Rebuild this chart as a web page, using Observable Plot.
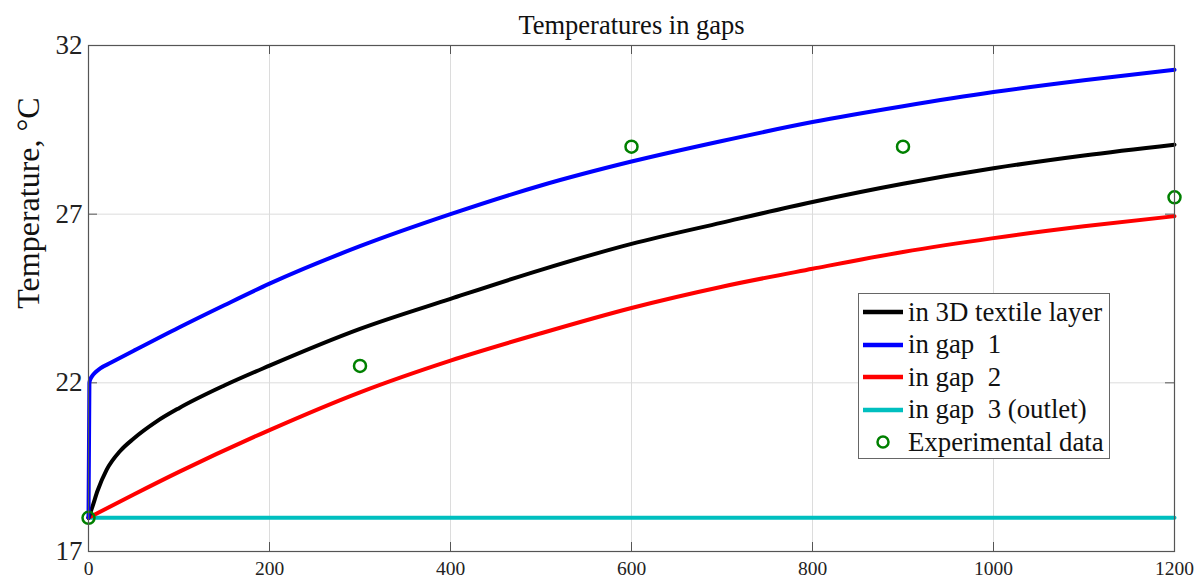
<!DOCTYPE html>
<html>
<head>
<meta charset="utf-8">
<script src="https://cdn.jsdelivr.net/npm/d3@7"></script>
<script src="https://cdn.jsdelivr.net/npm/@observablehq/plot@0.6"></script>
<style>
  html, body { margin: 0; padding: 0; background: #fff; }
  #wrap { position: relative; width: 1201px; height: 585px; font-family: "Liberation Serif", "DejaVu Serif", serif; }
  #legend { position: absolute; left: 858px; top: 293px; width: 250px; height: 162px; border: 1px solid #666; background: #fff; box-sizing: content-box; padding-top: 2px; }
  .row { display: flex; align-items: center; height: 32.5px; font-size: 26.8px; color: #111; white-space: nowrap; }
  .row svg { margin-left: 4px; margin-right: 5px; flex: none; }
  #ylabel { position: absolute; width: 280px; height: 40px; line-height: 40px; left: -112px; top: 183px; text-align: center; font-size: 32px; color: #111; transform: rotate(-90deg); transform-origin: 50% 50%; white-space: nowrap; }
</style>
</head>
<body>
<div id="wrap"></div>
<script>
const titleText = "Temperatures in gaps";
const yLabel = "Temperature, °C";
const xTicks = [0, 200, 400, 600, 800, 1000, 1200];
const yTicks = [17, 22, 27, 32];

// in 3D textile layer (black)
const textileX = [0, 4, 10, 20, 35, 50, 75, 100, 150, 200, 300, 400, 500, 600, 700, 800, 900, 1000, 1100, 1200];
const textileT = [18, 18.3, 18.8, 19.42, 19.98, 20.35, 20.85, 21.25, 21.92, 22.51, 23.6, 24.49, 25.35, 26.12, 26.75, 27.36, 27.9, 28.36, 28.74, 29.06];
// in gap 1 (blue)
const gap1X = [0, 1, 2, 4, 8, 13, 25, 50, 100, 150, 200, 300, 400, 500, 600, 700, 800, 900, 1000, 1100, 1200];
const gap1T = [18, 22.0, 22.1, 22.2, 22.32, 22.43, 22.6, 22.95, 23.64, 24.3, 24.94, 26.05, 27.0, 27.85, 28.56, 29.17, 29.73, 30.2, 30.62, 30.97, 31.28];
// in gap 2 (red)
const gap2X = [0, 50, 100, 200, 300, 400, 500, 600, 700, 800, 900, 1000, 1100, 1200];
const gap2T = [18, 18.69, 19.36, 20.6, 21.72, 22.66, 23.47, 24.22, 24.85, 25.38, 25.88, 26.29, 26.64, 26.94];
// in gap 3 (outlet) (cyan)
const gap3X = [0, 1200];
const gap3T = [18, 18];
// Experimental data
const expX = [0, 300, 600, 900, 1200];
const expT = [18, 22.5, 29, 29, 27.5];

const seriesNames = ["in 3D textile layer", "in gap  1", "in gap  2", "in gap  3 (outlet)"];
const seriesColors = ["#000000", "#0000ff", "#ff0000", "#00bfbf"];
const expName = "Experimental data";
const expColor = "#008000";

const toRows = (xs, ts) => xs.map((x, i) => ({x, t: ts[i]}));
const series = [toRows(textileX, textileT), toRows(gap1X, gap1T), toRows(gap2X, gap2T), toRows(gap3X, gap3T)];
const expRows = toRows(expX, expT);

const W = 1201, H = 585, mL = 88, mR = 27, mT = 45, mB = 34;
const frameH = H - mT - mB, frameW = W - mL - mR;
const tickLen = 9;
const font = "Liberation Serif";

const lineMarks = [];
// draw order: cyan, red, black, blue
[3, 2, 0, 1].forEach(k => {
  lineMarks.push(Plot.line(series[k], {x: "x", y: "t", stroke: seriesColors[k], strokeWidth: 4, curve: "monotone-x"}));
});

const chart = Plot.plot({
  width: W, height: H,
  marginLeft: mL, marginRight: mR, marginTop: mT, marginBottom: mB,
  style: {fontFamily: font, background: "#fff", color: "#222"},
  x: {domain: [0, 1200], ticks: xTicks},
  y: {domain: [17, 32], ticks: yTicks},
  marks: [
    Plot.gridX(xTicks, {stroke: "#dcdcdc", strokeOpacity: 1, strokeWidth: 1}),
    Plot.gridY([22, 27], {stroke: "#dcdcdc", strokeOpacity: 1, strokeWidth: 1}),
    // inward ticks on all sides
    Plot.ruleX(xTicks, {x: d => d, insetTop: frameH - tickLen, stroke: "#555"}),
    Plot.ruleX(xTicks, {x: d => d, insetBottom: frameH - tickLen, stroke: "#555"}),
    Plot.ruleY(yTicks, {y: d => d, insetRight: frameW - tickLen, stroke: "#555"}),
    Plot.ruleY(yTicks, {y: d => d, insetLeft: frameW - tickLen, stroke: "#555"}),
    Plot.axisX(xTicks, {tickSize: 0, tickPadding: 10, fontSize: 19.5, label: null, fill: "#222", tickFormat: d => String(d)}),
    Plot.axisY(yTicks, {tickSize: 0, tickPadding: 6, fontSize: 27, label: null, fill: "#222", tickFormat: d => String(d)}),
    ...lineMarks,
    Plot.dot(expRows, {x: "x", y: "t", r: 6, stroke: expColor, strokeWidth: 2.5, fill: "none"}),
    Plot.frame({stroke: "#555", strokeWidth: 1.2}),
    Plot.text([titleText], {text: d => d, frameAnchor: "top", dy: -30, fontSize: 26.5, fill: "#111", fontFamily: font})
  ]
});

const wrap = document.getElementById("wrap");
wrap.appendChild(chart);

// y axis label
const yl = document.createElement("div");
yl.id = "ylabel";
yl.textContent = yLabel;
wrap.appendChild(yl);

// legend
const legend = document.createElement("div");
legend.id = "legend";
const entries = seriesNames.map((n, i) => ({name: n, color: seriesColors[i], type: "line"}));
entries.push({name: expName, color: expColor, type: "dot"});
for (const e of entries) {
  const row = document.createElement("div");
  row.className = "row";
  const sw = e.type === "line"
    ? `<svg width="40" height="10"><line x1="0" x2="40" y1="5" y2="5" stroke="${e.color}" stroke-width="4.5"/></svg>`
    : `<svg width="40" height="16"><circle cx="20" cy="8" r="5.5" fill="none" stroke="${e.color}" stroke-width="2.5"/></svg>`;
  row.innerHTML = sw + `<span>${e.name.replace(/  /g, "&nbsp; ")}</span>`;
  legend.appendChild(row);
}
wrap.appendChild(legend);
</script>
</body>
</html>
